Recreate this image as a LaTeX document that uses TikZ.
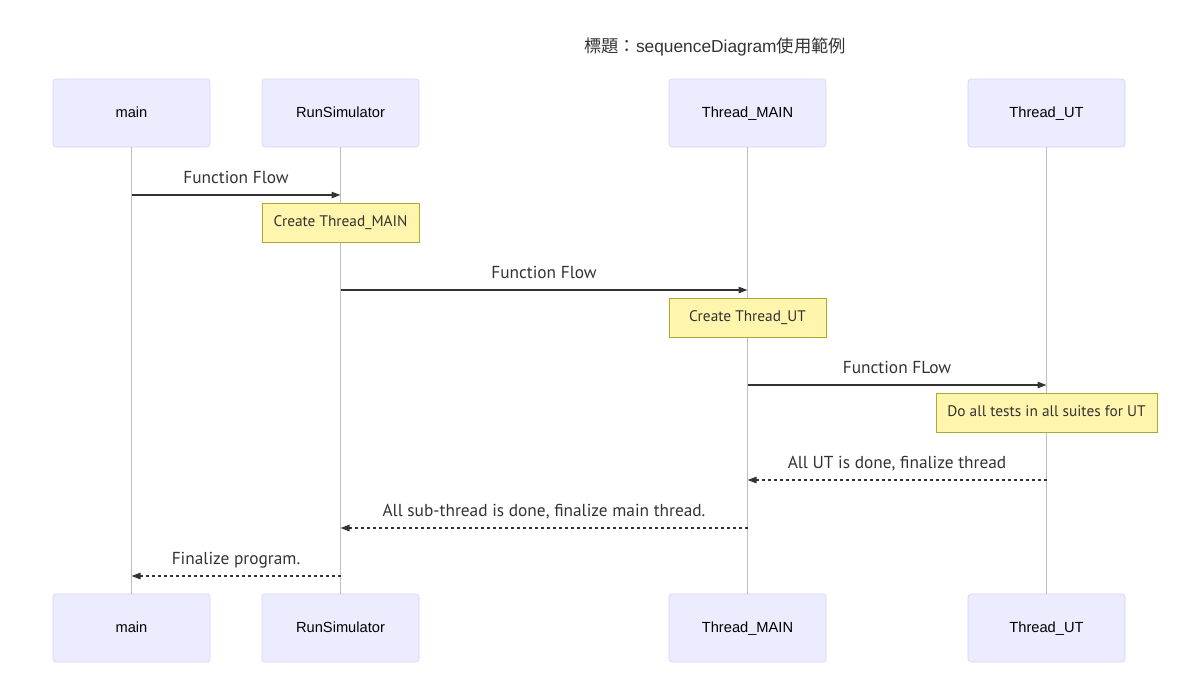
\documentclass[tikz,border=0pt]{standalone}
\usepackage{fontspec}
\setmainfont{Liberation Sans}
\newfontfamily\msgfont{PT Sans}
\newfontfamily\cjk{Noto Sans CJK TC}
\usetikzlibrary{arrows.meta}
\definecolor{actfill}{HTML}{ECECFF}
\definecolor{actline}{HTML}{DACEF2}
\definecolor{notefill}{HTML}{FFF5AD}
\definecolor{noteline}{HTML}{AAAA33}
\definecolor{ink}{HTML}{333333}
\tikzset{
	actor/.style={draw=actline,fill=actfill,rounded corners=2.25pt,minimum width=117.75pt,minimum height=51pt,inner sep=0pt,text height=1.5ex,text depth=0.3ex,text=black},
	note/.style={draw=noteline,fill=notefill,minimum width=117.75pt,minimum height=29.25pt,inner xsep=8.6pt,inner ysep=0pt,text height=1.5ex,text depth=0.3ex,font=\msgfont\fontsize{11.5}{13}\selectfont,text=ink},
	life/.style={draw=black!25,line width=0.6pt},
	msg/.style={draw=ink,line width=1.1pt,-{Triangle[length=6.75pt,width=4.8pt]}},
	ret/.style={msg,dash pattern=on 2.25pt off 2.25pt},
	lbl/.style={midway,anchor=base,yshift=8.5pt,font=\msgfont\fontsize{13}{15}\selectfont,text=ink}
}
\begin{document}
\begin{tikzpicture}[x=0.75pt,y=-0.75pt,font=\fontsize{11}{13}\selectfont]
	\useasboundingbox (0,0) rectangle (1183,694);
	\node[font=\fontsize{13}{15}\selectfont,text=ink] (title) at (715,47) {{\cjk 標題：}sequenceDiagram{\cjk 使用範例}};
	% actors and lifelines
	\foreach \n/\x/\t in {mn/131.5/main, rs/340.5/RunSimulator, tm/747.5/Thread\_MAIN, tu/1046.5/Thread\_UT}{
		\node[actor] (\n) at (\x,113) {\t};
		\node[actor] (\n_b) at (\x,628) {\t};
		\draw[life] (\n) -- (\n_b);
	}
	% notes
	\foreach \n/\y/\t in {rs/222.5/Create Thread\_MAIN, tm/317.5/Create Thread\_UT, tu/412.5/Do all tests in all suites for UT}{
		\node[note] (note_\n) at (\n |- 0,\y) {\t};
	}
	% messages
	\foreach \a/\b/\y/\s/\t in {mn/rs/195/msg/Function Flow, rs/tm/290/msg/Function Flow, tm/tu/385/msg/Function FLow,
		{tu/tm/480/ret/All UT is done, finalize thread}, {tm/rs/528/ret/All sub-thread is done, finalize main thread.},
		rs/mn/576/ret/Finalize program.}{
		\path (\a |- 0,\y) coordinate (p) (\b |- 0,\y) coordinate (q);
		\draw[\s] (p) -- node[lbl]{\t} (q);
	}
\end{tikzpicture}
\end{document}
